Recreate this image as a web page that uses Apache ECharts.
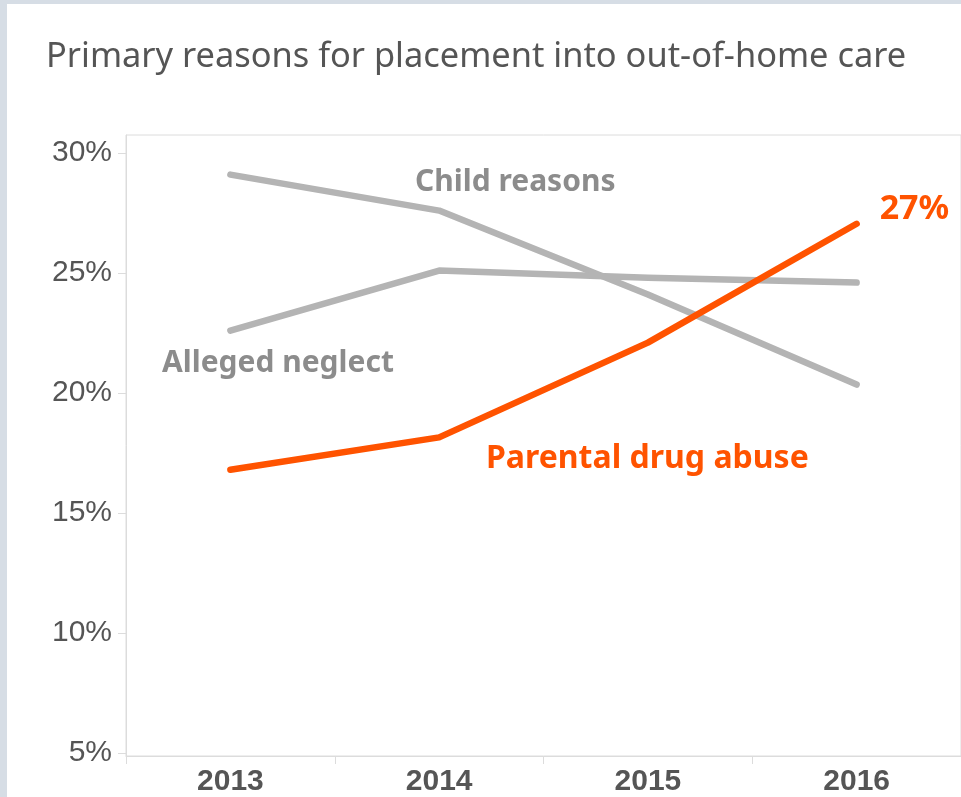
<!DOCTYPE html>
<html><head><meta charset="utf-8">
<script src="https://cdn.jsdelivr.net/npm/echarts@6/dist/echarts.min.js"></script>
<style>
html,body{margin:0;padding:0;background:#d6dde5;width:961px;height:797px;overflow:hidden;}
#panel{position:absolute;left:7px;top:4px;width:954px;height:793px;background:#fff;}
#chart{position:absolute;left:0;top:0;width:961px;height:797px;}
</style></head>
<body><div id="panel"></div><div id="chart"></div>
<script>
const years = ['2013','2014','2015','2016'];
const childReasons = [29.1, 27.6, 24.1, 20.35];
const allegedNeglect = [22.6, 25.1, 24.8, 24.6];
const parentalDrugAbuse = [16.8, 18.15, 22.1, 27.05];
const yTicks = [5, 10, 15, 20, 25, 30];

const gray = '#b4b4b4', orange = '#ff5300', labelGray = '#8c8c8c', textGray = '#555555';
const uiFont = '"Noto Sans", "Open Sans", sans-serif';
const chart = echarts.init(document.getElementById('chart'));
chart.setOption({
  animation: false,
  title: {
    text: 'Primary reasons for placement into out-of-home care',
    left: 41, top: 35,
    textStyle: {fontFamily: uiFont, fontSize: 34.4, fontWeight: 'normal', color: textGray}
  },
  grid: {left: 126, top: 135, right: -7, bottom: 40, show: true, borderColor: '#dcdcdc', borderWidth: 1},
  xAxis: {
    type: 'category', data: years, boundaryGap: true,
    axisLine: {lineStyle: {color: '#dcdcdc'}},
    axisTick: {show: true, length: 8, lineStyle: {color: '#dcdcdc'}},
    axisLabel: {fontFamily: '"Liberation Sans", Arial, sans-serif', fontSize: 30, fontWeight: 'bold', color: textGray, margin: 11}
  },
  yAxis: {
    type: 'value', min: 4.875, max: 30.75,
    splitLine: {show: false},
    axisLine: {show: true, lineStyle: {color: '#dcdcdc'}},
    axisTick: {show: true, length: 8, customValues: yTicks, lineStyle: {color: '#dcdcdc'}},
    axisLabel: {customValues: yTicks, formatter: v => v + '%', fontFamily: '"Liberation Sans", Arial, sans-serif', fontSize: 30, color: textGray, margin: 14}
  },
  series: [
    {name: 'Child reasons', type: 'line', data: childReasons, symbol: 'none', lineStyle: {color: gray, width: 6.5, cap: 'round', join: 'round'}, z: 2},
    {name: 'Alleged neglect', type: 'line', data: allegedNeglect, symbol: 'none', lineStyle: {color: gray, width: 6.5, cap: 'round', join: 'round'}, z: 2},
    {name: 'Parental drug abuse', type: 'line', data: parentalDrugAbuse, symbol: 'none', lineStyle: {color: orange, width: 6.5, cap: 'round', join: 'round'}, z: 3,
      endLabel: {show: true, formatter: '27%', color: orange, fontFamily: uiFont, fontSize: 34, fontWeight: 'bold', distance: 23, offset: [0, -14]}}
  ],
  graphic: [
    {type: 'text', left: 415, top: 167, style: {text: 'Child reasons', fill: labelGray, font: 'bold 30px "Noto Sans", sans-serif'}},
    {type: 'text', left: 162, top: 348, style: {text: 'Alleged neglect', fill: labelGray, font: 'bold 30px "Noto Sans", sans-serif'}},
    {type: 'text', left: 486, top: 443, style: {text: 'Parental drug abuse', fill: orange, font: 'bold 32px "Noto Sans", sans-serif'}}
  ]
});
</script></body></html>
